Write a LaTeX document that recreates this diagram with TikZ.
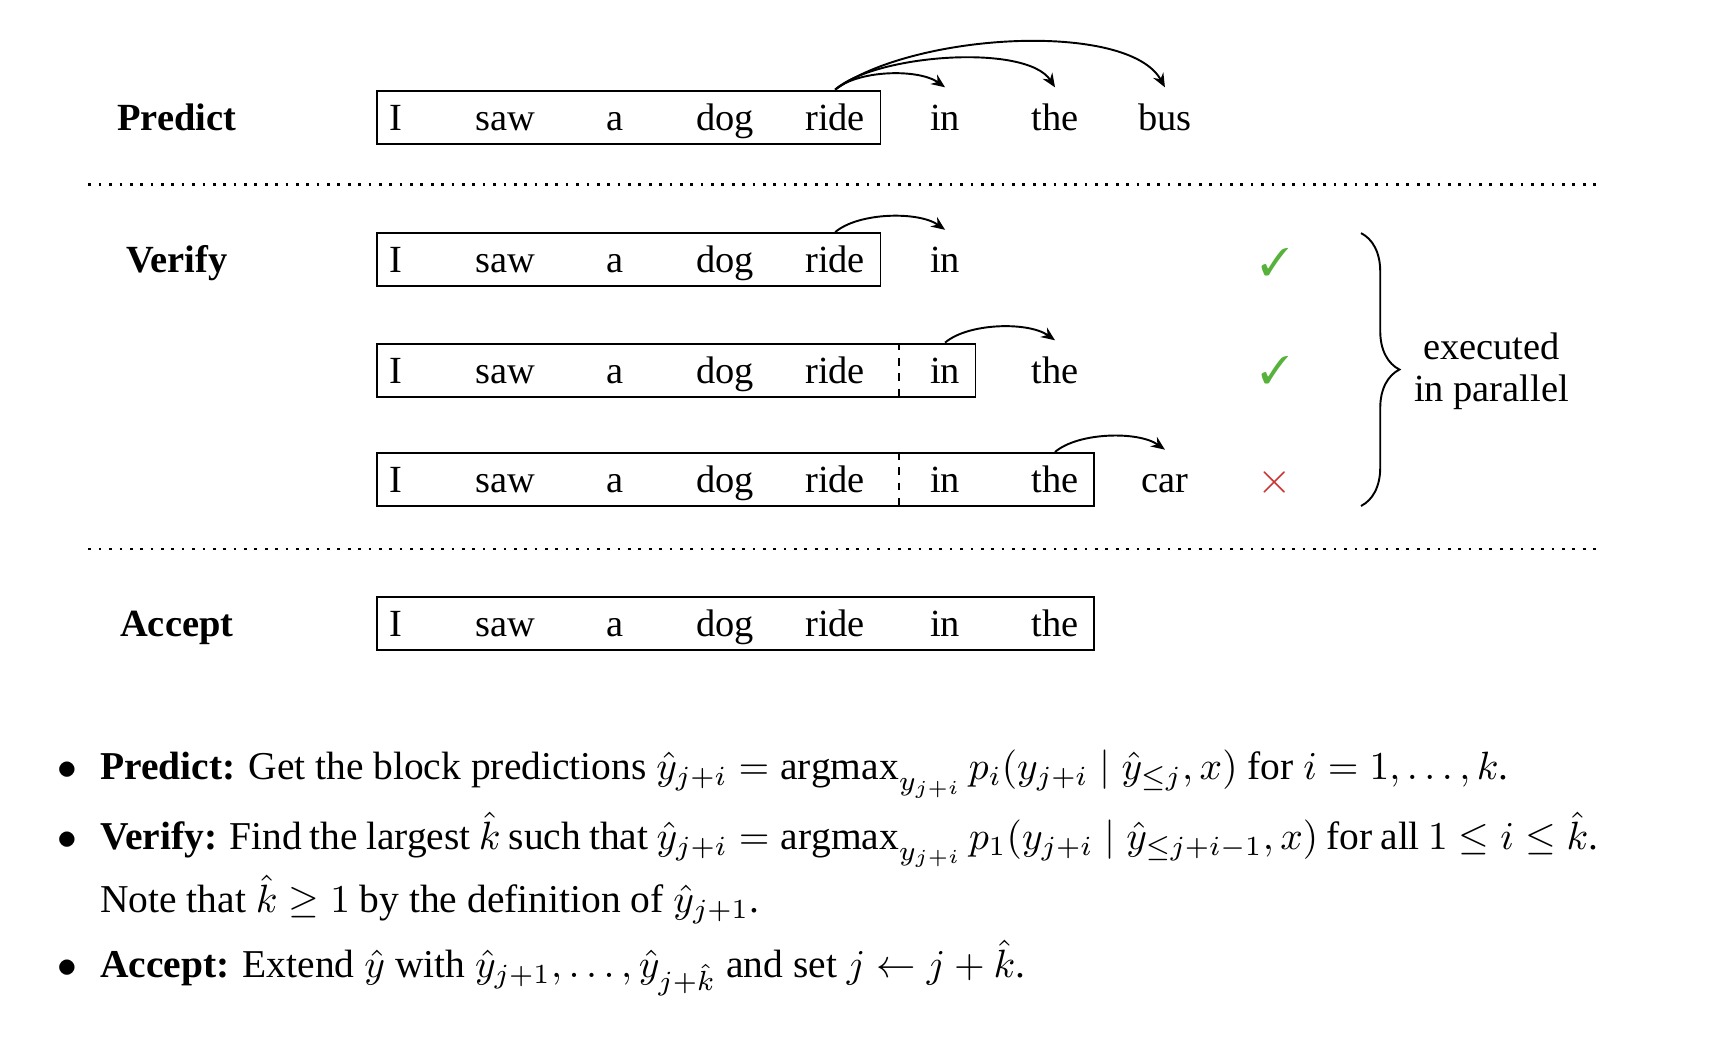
\documentclass[tikz,border=0pt]{standalone}
\usepackage{fontspec}
\setmainfont{Liberation Serif}
\usepackage{amssymb}
\usepackage{pifont}
\usetikzlibrary{arrows.meta,fit,decorations.pathreplacing}
\definecolor{okgreen}{RGB}{86,178,58}
\definecolor{badred}{RGB}{204,51,51}
\begin{document}
\begin{tikzpicture}[x=0.2874pt,y=-0.2874pt,
  word/.style={anchor=base,inner sep=0pt,text height=11pt,text depth=0pt},
  lab/.style={anchor=base,inner sep=0pt,font=\bfseries},
  tokbox/.style={draw,line width=0.5pt,inner sep=0pt},
  arr/.style={-{Stealth[length=3.6pt,width=3pt,inset=1.2pt]},line width=0.5pt},
  sepline/.style={dotted,line width=0.7pt},
  divider/.style={dash pattern=on 2pt off 2pt,line width=0.4pt},
  bul/.style={anchor=base west,inner sep=0pt,scale=1.027,transform shape},
  dot/.style={anchor=base,inner sep=0pt,scale=1.027,transform shape}]
\useasboundingbox (0,0) rectangle (1566,948);

% labels
\node[lab] (lp) at (160,118) {Predict};
\node[lab] (lv) at (160,247) {Verify};
\node[lab] (la) at (160,576) {Accept};

% Predict row
\node[tokbox, fit={(341,82) (797,130)}] (pbox) {};
\foreach \w [count=\i] in {I,saw,a,dog,ride,in,the,bus}
  \node[word] (p\i) at ({358+99.5*(\i-1)},118) {\w};
\draw[arr] (p5 |- pbox.north) .. controls +(21,-18) and +(-24,-17) .. (p6.north);
\draw[arr] (p5 |- pbox.north) .. controls +(36,-32) and +(-26,-40) .. (p7.north);
\draw[arr] (p5 |- pbox.north) .. controls +(71,-52) and +(-33,-60) .. (p8.north);

\draw[sepline] (80,167) -- (1445,167);

% Verify row 1
\node[tokbox, fit={(341,211) (797,259)}] (vabox) {};
\foreach \w [count=\i] in {I,saw,a,dog,ride,in}
  \node[word] (va\i) at ({358+99.5*(\i-1)},247) {\w};
\draw[arr] (va5 |- vabox.north) .. controls +(21,-18) and +(-24,-17) .. (va6.north);

% Verify row 2
\node[tokbox, fit={(341,311) (883,359)}] (vbbox) {};
\draw[divider] (814,0 |- vbbox.north) -- (814,0 |- vbbox.south);
\foreach \w [count=\i] in {I,saw,a,dog,ride,in,the}
  \node[word] (vb\i) at ({358+99.5*(\i-1)},347) {\w};
\draw[arr] (vb6 |- vbbox.north) .. controls +(21,-18) and +(-24,-17) .. (vb7.north);

% Verify row 3
\node[tokbox, fit={(341,410) (990,458)}] (vcbox) {};
\draw[divider] (814,0 |- vcbox.north) -- (814,0 |- vcbox.south);
\foreach \w [count=\i] in {I,saw,a,dog,ride,in,the,car}
  \node[word] (vc\i) at ({358+99.5*(\i-1)},446) {\w};
\draw[arr] (vc7 |- vcbox.north) .. controls +(21,-18) and +(-24,-17) .. (vc8.north);

% marks
\node[text=okgreen, inner sep=0pt] (ok1) at (1154,237) {\ding{51}};
\node[text=okgreen, inner sep=0pt] (ok2) at (1154,335) {\ding{51}};
\node[text=badred, inner sep=0pt, scale=1.15] (no3) at (1154,437) {$\times$};

% brace
\coordinate (brtop) at (1232,211);
\coordinate (brbot) at (1232,458);
\draw[decorate, decoration={brace, amplitude=10pt}, line width=0.5pt] (brtop) -- (brbot);
\node[align=center, inner sep=0pt] (par) at (1350,336) {executed\\[-1pt]in parallel};

\draw[sepline] (80,497) -- (1445,497);

% Accept row
\node[tokbox, fit={(341,540) (990,588)}] (abox) {};
\foreach \w [count=\i] in {I,saw,a,dog,ride,in,the}
  \node[word] (ac\i) at ({358+99.5*(\i-1)},576) {\w};

% bullets
\node[dot] (d1) at (61,706) {$\bullet$};
\node[bul] (b1) at (90,706) {\textbf{Predict:} Get the block predictions $\hat{y}_{j+i} = \mathrm{argmax}_{y_{j+i}}\, p_i(y_{j+i} \mid \hat{y}_{\leq j}, x)$ for $i = 1, \ldots, k$.};
\node[dot] (d2) at (61,769) {$\bullet$};
\node[bul] (b2) at (90,769) {\hbox to 379.5pt{\textbf{Verify:} Find the largest $\hat{k}$ such that $\hat{y}_{j+i} = \mathrm{argmax}_{y_{j+i}}\, p_1(y_{j+i} \mid \hat{y}_{\leq j+i-1}, x)$ for all $1 \leq i \leq \hat{k}$.}};
\node[bul] (b2b) at (90,826) {Note that $\hat{k} \geq 1$ by the definition of $\hat{y}_{j+1}$.};
\node[dot] (d3) at (61,885) {$\bullet$};
\node[bul] (b3) at (90,885) {\textbf{Accept:} Extend $\hat{y}$ with $\hat{y}_{j+1}, \ldots, \hat{y}_{j+\hat{k}}$ and set $j \leftarrow j + \hat{k}$.};
\end{tikzpicture}
\end{document}
